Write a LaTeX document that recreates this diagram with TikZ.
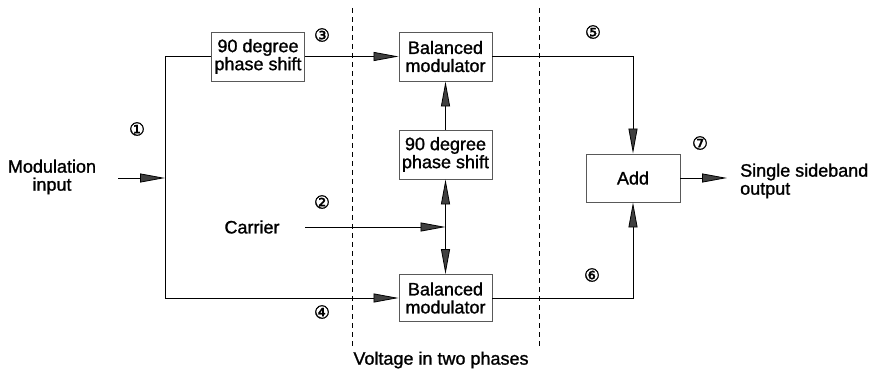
\documentclass[tikz,border=0pt]{standalone}
\usepackage{fontspec}
\setmainfont{Liberation Sans}[FakeBold=1.2]
\newfontfamily\circfont{DejaVu Sans}[FakeBold=1.5]
\usetikzlibrary{arrows.meta,positioning,calc}

\begin{document}
\begin{tikzpicture}[x=1pt, y=-1pt,
    blk/.style={draw=black!65, line width=0.9pt, minimum width=93pt, minimum height=49pt,
        inner sep=0pt, align=center, font=\fontsize{18}{18}\selectfont},
    lbl/.style={align=center, inner sep=0pt, font=\fontsize{18}{18}\selectfont},
    num/.style={inner sep=0pt, font=\circfont\fontsize{18}{18}\selectfont},
    arr/.style={-{Triangle[length=25pt, width=9pt, fill=black!75]}},
    wire/.style={line width=0.8pt, black}]
    \useasboundingbox (0,0) rectangle (869,371);

    % Boxes
    \node[blk] (ps1) at (258,56.5) {90 degree\\phase shift};
    \node[blk] (bm1) at (445.5,56.5) {Balanced\\modulator};
    \node[blk] (ps2) at (445.5,154.5) {90 degree\\phase shift};
    \node[blk, minimum height=47pt] (bm2) at (445.5,298) {Balanced\\modulator};
    \node[blk, minimum width=94pt, minimum height=48pt] (add) at (633,178) {Add};

    % Texts
    \node[lbl] (modin) at (52,177) {Modulation\\input};
    \node[lbl] (carrier) at (252,227) {Carrier};
    \node[lbl, align=left, anchor=west] (ssb) at (740,181) {Single sideband\\output};
    \node[lbl] (volt) at (441,360) {Voltage in two phases};

    % Circled numbers
    \node[num] (n1) at (137,129) {①};
    \node[num] (n2) at (322,202) {②};
    \node[num] (n3) at (322,35) {③};
    \node[num] (n4) at (322,312) {④};
    \node[num] (n5) at (593,32) {⑤};
    \node[num] (n6) at (592,275) {⑥};
    \node[num] (n7) at (700,143) {⑦};

    % Free ends and junctions
    \coordinate (in) at (118,178);
    \coordinate (j1) at (165,178);
    \coordinate (c0) at (305,227);
    \coordinate (j2) at (445.5,227);
    \coordinate (out) at (727,178);

    % Connectors
    \draw[wire, arr] (in) -- (j1);
    \draw[wire] (j1) |- (ps1.west);
    \draw[wire, arr] (j1) |- (bm2.west);
    \draw[wire, arr] (ps1.east) -- (bm1.west);
    \draw[wire, arr] (ps2.north) -- (bm1.south);
    \draw[wire, arr] (c0) -- (j2);
    \draw[wire, arr] (j2) -- (ps2.south);
    \draw[wire, arr] (j2) -- (bm2.north);
    \draw[wire, arr] (bm1.east) -| (add.north);
    \draw[wire, arr] (bm2.east) -| (add.south);
    \draw[wire, arr] (add.east) -- (out);

    % Phase boundaries
    \draw[black, line width=0.7pt, dash pattern=on 5pt off 4pt] (352,8) -- (352,347);
    \draw[black, line width=0.7pt, dash pattern=on 5pt off 4pt] (539,8) -- (539,347);
\end{tikzpicture}
\end{document}
